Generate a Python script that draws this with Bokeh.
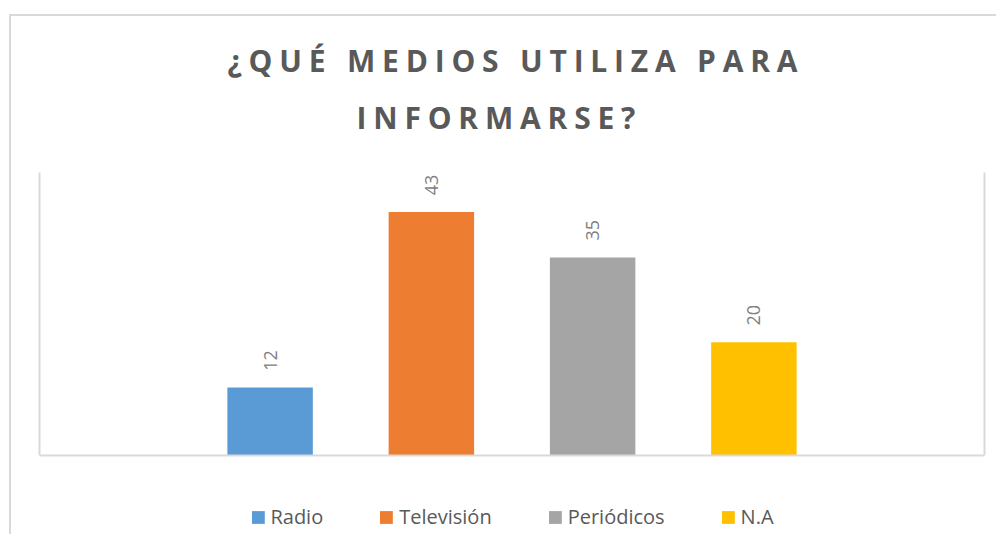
from bokeh.plotting import figure
from bokeh.models import (ColumnDataSource, Range1d, Span, Label, LabelSet,
                          Legend, LegendItem, LinearAxis, FixedTicker)
from bokeh.layouts import column
from bokeh.embed import file_html
from bokeh.resources import INLINE
from bokeh.core.properties import value
import math

# ---- data ----
categories = ["Radio", "Televisión", "Periódicos", "N.A"]
counts = [12, 43, 35, 20]
colors = ["#5B9BD5", "#ED7D31", "#A5A5A5", "#FFC000"]
title_lines = ["¿QUÉ MEDIOS UTILIZA PARA", "INFORMARSE?"]
y_max = 50

LABEL_GAP = 4.8  # data units between bar top and centre of its value label
xs = list(range(1, len(categories) + 1))
src = ColumnDataSource(dict(x=xs, val=counts, cat=categories, color=colors,
                            ly=[v + LABEL_GAP for v in counts],
                            txt=[str(v) for v in counts]))

GRID = "#d9d9d9"
TXT = "#595959"

# ---- title figure (letter-spaced via inherited CSS) ----
t = figure(width=985, height=148, output_backend="svg", toolbar_location=None,
           x_axis_location=None, y_axis_location=None,
           min_border=0, outline_line_color=None,
           styles={"letter-spacing": "6.8px"})
t.grid.visible = False
t.x_range = Range1d(0, 1)
t.y_range = Range1d(0, 1)
for txt, lx, ly in [(title_lines[0], 188, 104), (title_lines[1], 317, 47)]:
    t.add_layout(Label(x=lx, y=ly, x_units="screen", y_units="screen", text=txt,
                       text_font="Open Sans", text_font_style="bold",
                       text_font_size="30px", text_color=TXT,
                       text_align="left", text_baseline="alphabetic"))

# ---- main chart (frame extends below the baseline to hold the legend) ----
p = figure(width=985, height=370, output_backend="svg", toolbar_location=None,
           x_axis_location=None, y_axis_location="left",
           x_range=Range1d(-0.43, 5.43), y_range=Range1d(-13.96, y_max),
           min_border_left=28, min_border_right=12,
           min_border_top=8, min_border_bottom=0,
           outline_line_color=None)
p.grid.visible = False

right_axis = LinearAxis()
p.add_layout(right_axis, "right")
for ax in p.yaxis:
    ax.bounds = (0, y_max)
    ax.ticker = FixedTicker(ticks=[])
    ax.major_tick_line_color = None
    ax.minor_tick_line_color = None
    ax.major_label_text_font_size = "0px"
    ax.major_label_standoff = 0
    ax.axis_line_color = GRID
    ax.axis_line_width = 2

r = p.vbar(x="x", top="val", width=0.53, color="color", line_color=None, source=src)

p.add_layout(LabelSet(x="x", y="ly", text="txt", source=src,
                      angle=math.pi / 2,
                      text_font=value("Open Sans"), text_font_size="18px",
                      text_color="#808080", text_align="center",
                      text_baseline="middle"))

p.add_layout(Span(location=0, dimension="width", line_color=GRID, line_width=2))

lg = Legend(items=[LegendItem(label=c, renderers=[r], index=i)
                   for i, c in enumerate(categories)])
lg.orientation = "horizontal"
lg.location = "bottom_center"
lg.margin = 4
lg.padding = 0
lg.spacing = 55
lg.border_line_color = None
lg.background_fill_alpha = 0
lg.glyph_width = 16
lg.glyph_height = 16
lg.label_standoff = 5
lg.label_text_font = "Open Sans"
lg.label_text_font_size = "20px"
lg.label_text_color = TXT
p.add_layout(lg, "center")

layout = column(t, p, spacing=0, margin=(14, 0, 0, 9),
                styles={"border-top": f"2px solid {GRID}", "border-left": f"2px solid {GRID}"})

open("out.html", "w").write(file_html(layout, INLINE))
